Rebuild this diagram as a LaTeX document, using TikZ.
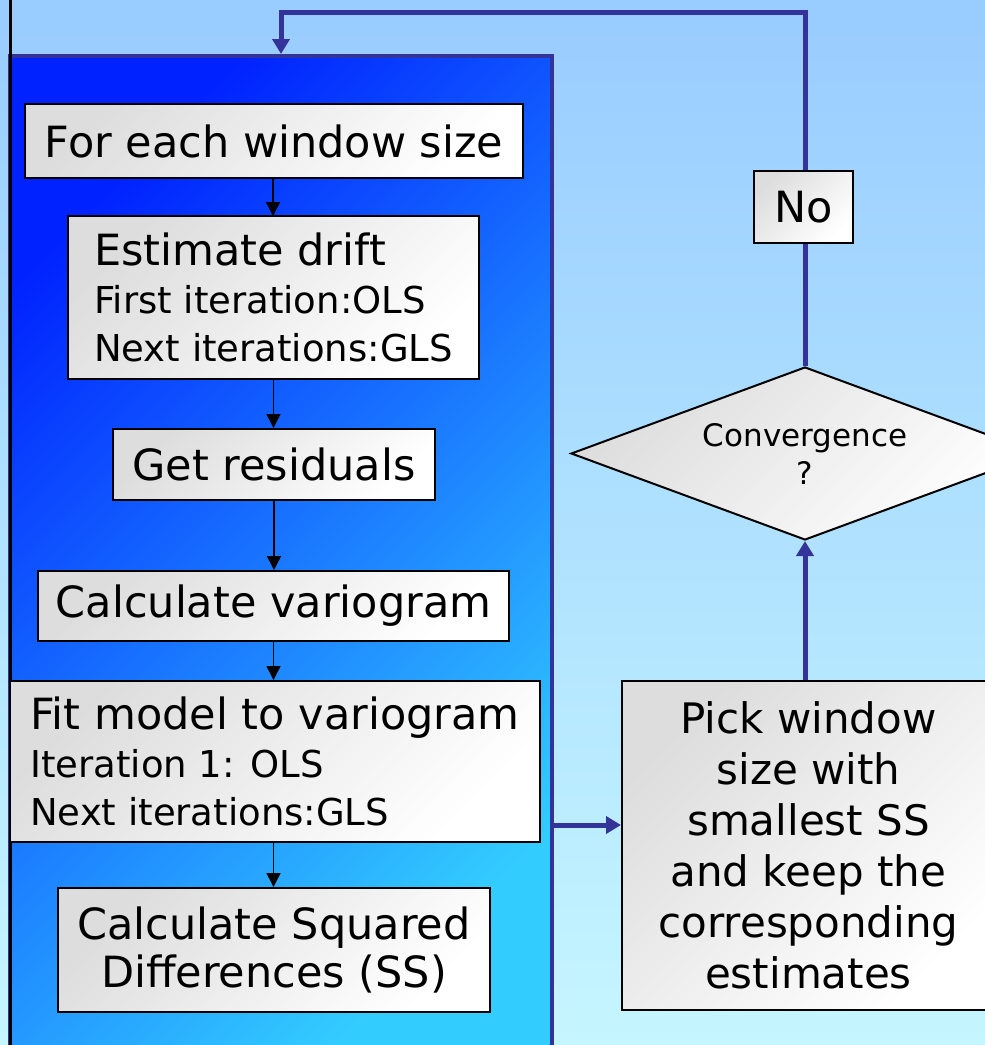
\documentclass[tikz,border=0pt]{standalone}
\usepackage{fontspec}
\setmainfont{DejaVu Sans}
\usetikzlibrary{arrows.meta,shapes.geometric}
\definecolor{bgtop}{RGB}{153,204,255}
\definecolor{bgbot}{RGB}{197,246,255}
\definecolor{pantl}{RGB}{0,34,255}
\definecolor{panbr}{RGB}{51,204,255}
\definecolor{boxtl}{RGB}{221,221,221}
\definecolor{loopblue}{RGB}{51,51,153}
\newcommand{\bigf}{\fontsize{43}{48}\selectfont}
\newcommand{\smallf}{\fontsize{37}{46}\selectfont}
\tikzset{
  stepbox/.style={draw=black, line width=2pt, top color=boxtl, bottom color=white, shading angle=45, inner sep=0pt, font=\bigf},
  panelbox/.style={draw=loopblue, line width=4pt, top color=pantl, bottom color=panbr, shading angle=45, inner sep=0pt},
  flow/.style={draw=black, line width=1.5pt, -{Triangle[width=14pt,length=14pt]}},
  loopline/.style={draw=loopblue, line width=5pt},
  looparrow/.style={loopline, -{Triangle[width=17pt,length=15pt]}},
}
\begin{document}
\begin{tikzpicture}[x=1pt,y=-1pt]
\useasboundingbox (0,0) rectangle (985,1045);
\clip (0,0) rectangle (985,1045);
\shade[top color=bgtop, bottom color=bgbot] (0,0) rectangle (985,1045);
% panel
\node[panelbox, minimum width=542pt, minimum height=1000pt] (panel) at (281,556) {};
\draw[line width=3pt] (10,0) -- (10,1045);
% boxes
\node[stepbox, minimum width=498pt, minimum height=74pt] (b1) at (274,141) {For each window size};
\node[stepbox, minimum width=411pt, minimum height=163pt, align=left] (b2) at (273.5,297.5)
  {{\bigf Estimate drift}\\\smallf First iteration:OLS\\\smallf Next iterations:GLS};
\node[stepbox, minimum width=322pt, minimum height=71pt] (b3) at (274,464.5) {Get residuals};
\node[stepbox, minimum width=471pt, minimum height=70pt] (b4) at (273.5,606) {Calculate variogram};
\node[stepbox, minimum width=530pt, minimum height=161pt, align=left] (b5) at (275,761.5)
  {{\bigf Fit model to variogram}\\\smallf Iteration 1: OLS\\\smallf Next iterations:GLS};
\node[stepbox, minimum width=432pt, minimum height=124pt, align=center] (b6) at (274,950)
  {Calculate Squared\\Differences (SS)};
% right side
\node[stepbox, minimum width=373pt, minimum height=329pt, align=center, font=\fontsize{42}{51}\selectfont] (pick) at (808.5,845.5)
  {Pick window\\size with\\smallest SS\\and keep the\\corresponding\\estimates};
\node[stepbox, diamond, aspect=2.7, minimum width=468pt, minimum height=173pt, align=center, font=\fontsize{31}{38}\selectfont] (conv) at (805,453.5)
  {Convergence\\?};
\node[stepbox, minimum width=99pt, minimum height=72pt] (no) at (803.5,207) {No};
% flow arrows
\draw[flow] (b1.south -| 273,0) -- (273,216);
\draw[flow] (b2.south) -- (b2.south |- b3.north);
\draw[flow] (b3.south) -- (b3.south |- b4.north);
\draw[flow] (b4.south) -- (b4.south |- b5.north);
\draw[flow] (b5.south -| b4.south) -- (b4.south |- b6.north);
% loop
\coordinate (loopc) at (281,12);
\coordinate (panout) at (552,825);
\draw[looparrow] (panout) -- (panout -| pick.west);
\draw[looparrow] (pick.north -| conv.south) -- (conv.south);
\draw[loopline] (conv.north) -- (no.south -| conv.north);
\draw[looparrow] (no.north -| conv.north) |- (loopc) -- (loopc |- panel.north);
\end{tikzpicture}
\end{document}
